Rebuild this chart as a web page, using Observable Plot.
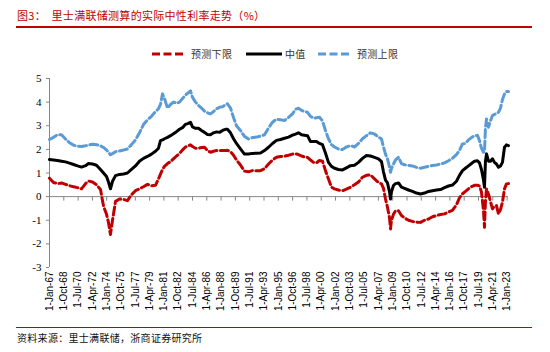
<!DOCTYPE html>
<html><head><meta charset="utf-8">
<script src="https://cdn.jsdelivr.net/npm/d3@7"></script>
<script src="https://cdn.jsdelivr.net/npm/@observablehq/plot@0.6"></script>
<style>
body{margin:0;background:#fff;}
#wrap{position:relative;width:550px;height:352px;overflow:hidden;font-family:"Noto Sans CJK SC",sans-serif;}
#title{position:absolute;left:17px;top:7px;font-size:11px;line-height:16px;color:#C00000;letter-spacing:0.3px;white-space:nowrap;}
.rule{position:absolute;left:16px;width:516px;background:#C00000;}
#legend{position:absolute;left:0;top:46px;width:550px;height:16px;}
.sw{position:absolute;top:0;}
.lt{position:absolute;top:0;font-size:10px;line-height:16px;color:#333;letter-spacing:0.3px;white-space:nowrap;}
#chart{position:absolute;left:0;top:68px;}
#source{position:absolute;left:17px;top:331px;font-size:10px;line-height:14px;color:#111;letter-spacing:0.3px;white-space:nowrap;}
</style></head><body>
<div id="wrap">
  <div id="title">图3：&nbsp;&nbsp;里士满联储测算的实际中性利率走势（%）</div>
  <div class="rule" style="top:26px;height:2px"></div>
  <div id="legend"></div>
  <div id="chart"></div>
  <div class="rule" style="top:326.5px;height:1.5px"></div>
  <div id="source">资料来源：里士满联储，浙商证券研究所</div>
</div>
<script>
const seriesNames = ["预测下限", "中值", "预测上限"];
const seriesColors = ["#C00000", "#000000", "#5B9BD5"];
const yTicks = [-3, -2, -1, 0, 1, 2, 3, 4, 5];
const tickLabels = ["1-Jan-67","1-Oct-68","1-Jul-70","1-Apr-72","1-Jan-74","1-Oct-75","1-Jul-77","1-Apr-79","1-Jan-81","1-Oct-82","1-Jul-84","1-Apr-86","1-Jan-88","1-Oct-89","1-Jul-91","1-Apr-93","1-Jan-95","1-Oct-96","1-Jul-98","1-Apr-00","1-Jan-02","1-Oct-03","1-Jul-05","1-Apr-07","1-Jan-09","1-Oct-10","1-Jul-12","1-Apr-14","1-Jan-16","1-Oct-17","1-Jul-19","1-Apr-21","1-Jan-23"];

const years = [
1967.00,1967.49,1967.98,1968.47,1968.96,1969.45,1969.94,1970.43,1970.92,1971.41,
1971.77,1972.26,1972.75,1973.24,1973.61,1973.98,1974.22,1974.46,1974.71,1975.08,
1975.57,1976.06,1976.54,1977.03,1977.52,1978.01,1978.50,1978.99,1979.48,1979.97,
1980.34,1980.58,1980.83,1981.07,1981.44,1981.81,1982.17,1982.54,1982.91,1983.28,
1983.64,1984.01,1984.25,1984.50,1984.87,1985.23,1985.60,1985.97,1986.33,1986.70,
1987.07,1987.44,1987.80,1988.17,1988.54,1988.78,1989.15,1989.52,1989.88,1990.37,
1990.86,1991.35,1991.84,1992.33,1992.82,1993.31,1993.80,1994.29,1994.78,1995.27,
1995.76,1996.25,1996.74,1997.10,1997.47,1997.84,1998.20,1998.57,1998.94,1999.31,
1999.67,2000.04,2000.41,2000.77,2001.14,2001.51,2001.88,2002.36,2002.85,2003.34,
2003.83,2004.32,2004.81,2005.30,2005.79,2006.28,2006.77,2007.26,2007.63,2007.87,
2008.12,2008.36,2008.61,2008.73,2008.85,2009.09,2009.34,2009.71,2010.07,2010.44,
2010.93,2011.42,2011.91,2012.40,2012.89,2013.38,2013.87,2014.36,2014.85,2015.34,
2015.83,2016.31,2016.80,2017.17,2017.54,2017.90,2018.27,2018.64,2019.01,2019.37,
2019.62,2019.86,2020.11,2020.23,2020.35,2020.48,2020.72,2020.96,2021.21,2021.45,
2021.70,2021.94,2022.19,2022.43,2022.68,2022.92,2023.17];

const lower = [
0.78,0.60,0.55,0.58,0.52,0.46,0.42,0.38,0.33,0.55,
0.66,0.62,0.50,0.30,-0.40,-0.75,-1.10,-1.60,-1.00,-0.20,
-0.10,-0.12,-0.17,0.08,0.25,0.33,0.42,0.52,0.46,0.48,
0.75,0.95,1.15,1.28,1.40,1.48,1.60,1.72,1.82,1.98,
2.10,2.15,2.19,2.12,2.05,2.05,2.08,2.09,1.95,1.88,
1.92,1.95,1.95,1.95,1.95,1.96,1.90,1.75,1.55,1.34,
1.08,1.05,1.10,1.10,1.10,1.18,1.38,1.55,1.67,1.70,
1.71,1.75,1.80,1.81,1.78,1.72,1.68,1.66,1.55,1.45,
1.43,1.53,1.50,1.10,0.75,0.40,0.33,0.28,0.25,0.32,
0.40,0.50,0.62,0.82,0.90,0.92,0.75,0.60,0.54,0.35,
-0.10,-0.45,-0.90,-1.37,-1.00,-0.75,-0.60,-0.60,-0.80,-0.90,
-1.00,-1.05,-1.08,-1.09,-1.00,-0.95,-0.85,-0.80,-0.76,-0.73,
-0.65,-0.58,-0.35,-0.05,0.12,0.22,0.33,0.42,0.48,0.48,
0.45,0.20,-0.60,-1.30,-0.20,0.33,0.10,-0.20,-0.52,-0.40,
-0.38,-0.73,-0.55,-0.24,0.33,0.54,0.55];

const median = [
1.57,1.55,1.53,1.50,1.47,1.42,1.36,1.30,1.25,1.31,
1.40,1.38,1.33,1.15,1.00,0.85,0.62,0.33,0.65,0.89,
0.94,0.96,1.00,1.15,1.30,1.50,1.62,1.70,1.80,1.92,
2.05,2.37,2.40,2.45,2.51,2.58,2.66,2.75,2.85,2.92,
3.06,3.10,3.15,2.95,2.89,2.89,2.80,2.72,2.63,2.62,
2.70,2.74,2.72,2.80,2.85,2.85,2.70,2.45,2.25,2.02,
1.80,1.80,1.83,1.84,1.85,1.95,2.09,2.25,2.38,2.42,
2.47,2.52,2.60,2.65,2.70,2.62,2.60,2.58,2.33,2.33,
2.33,2.25,2.20,1.85,1.45,1.28,1.20,1.15,1.13,1.22,
1.31,1.33,1.45,1.62,1.74,1.72,1.66,1.60,1.48,1.05,
0.70,0.58,0.20,-0.10,0.20,0.47,0.55,0.58,0.40,0.35,
0.28,0.22,0.15,0.11,0.15,0.22,0.25,0.28,0.30,0.38,
0.45,0.49,0.65,0.90,1.10,1.20,1.30,1.40,1.50,1.52,
1.43,1.15,0.70,0.40,1.50,1.81,1.50,1.50,1.60,1.45,
1.38,1.24,1.30,1.45,2.09,2.19,2.16];

const upper = [
2.42,2.51,2.62,2.62,2.44,2.28,2.18,2.13,2.12,2.15,
2.18,2.22,2.20,2.15,2.08,1.97,1.88,1.77,1.82,1.90,
1.93,1.97,2.02,2.20,2.40,2.70,3.05,3.25,3.40,3.60,
3.72,3.90,4.35,4.15,3.75,3.90,4.00,3.95,4.00,4.15,
4.30,4.40,4.48,4.20,4.00,3.86,3.75,3.62,3.55,3.50,
3.60,3.72,3.78,3.80,3.90,3.93,3.75,3.35,3.00,2.80,
2.55,2.44,2.50,2.52,2.56,2.62,2.90,3.15,3.28,3.25,
3.22,3.35,3.50,3.70,3.74,3.65,3.60,3.57,3.40,3.32,
3.34,3.36,3.20,2.80,2.45,2.20,2.10,2.02,1.99,2.10,
2.16,2.10,2.25,2.45,2.58,2.70,2.65,2.52,2.44,2.10,
1.80,1.60,1.25,1.03,1.20,1.38,1.55,1.67,1.40,1.35,
1.32,1.30,1.24,1.20,1.24,1.28,1.32,1.34,1.38,1.43,
1.52,1.62,1.78,1.95,2.23,2.25,2.40,2.50,2.58,2.60,
2.37,2.05,1.88,1.90,2.90,3.29,2.94,3.20,3.43,3.48,
3.52,3.57,3.75,4.10,4.35,4.45,4.45];

const monthNames = ["Jan","Feb","Mar","Apr","May","Jun","Jul","Aug","Sep","Oct","Nov","Dec"];
function parseLabel(s) {
  const [, mon, yy] = s.split("-");
  const y2 = +yy;
  const year = y2 >= 50 ? 1900 + y2 : 2000 + y2;
  return year + monthNames.indexOf(mon) / 12;
}
const tickVals = tickLabels.map(parseLabel);
const labelOf = new Map(tickVals.map((v, i) => [v, tickLabels[i]]));

const rows = years.map((t, i) => ({t, lower: lower[i], median: median[i], upper: upper[i]}));
const tickDown = {draw(ctx) { ctx.moveTo(0, 0); ctx.lineTo(0, 4); }};
const axisGray = "#868686";
const dash = "8,3.5";

const chart = Plot.plot({
  width: 550, height: 256,
  marginLeft: 49, marginRight: 42, marginTop: 10, marginBottom: 57,
  x: {type: "linear", domain: [years[0], years[years.length - 1]], axis: null, label: null},
  y: {domain: [-3, 5], axis: null, label: null},
  style: {fontFamily: "Liberation Sans, sans-serif", fontSize: "10px", color: "#000", background: "transparent", overflow: "visible"},
  marks: [
    Plot.ruleY([0], {stroke: axisGray, strokeWidth: 1}),
    Plot.ruleX([years[0]], {stroke: axisGray, strokeWidth: 1}),
    Plot.dot(tickVals, {x: d => d, y: 0, symbol: tickDown, r: 2, stroke: axisGray, fill: "none", strokeWidth: 1}),
    Plot.axisY({ticks: yTicks, label: null, tickSize: 3, tickPadding: 5, stroke: axisGray, fill: "#000", fontFamily: "Liberation Serif, serif", fontSize: 11, tickFormat: d => String(d)}),
    Plot.axisX({ticks: tickVals, label: null, tickFormat: d => labelOf.get(d), tickRotate: -90, tickSize: 0, tickPadding: 4, fill: "#000", fontFamily: "Liberation Sans, sans-serif", fontSize: 10}),
    Plot.lineY(rows, {x: "t", y: "lower", stroke: seriesColors[0], strokeWidth: 3, strokeDasharray: dash, strokeLinejoin: "round"}),
    Plot.lineY(rows, {x: "t", y: "median", stroke: seriesColors[1], strokeWidth: 3, strokeLinejoin: "round"}),
    Plot.lineY(rows, {x: "t", y: "upper", stroke: seriesColors[2], strokeWidth: 3, strokeDasharray: dash, strokeLinejoin: "round"})
  ]
});
document.getElementById("chart").appendChild(chart);

// legend
const legendSpec = [
  {sw: 152, w: 32, tx: 191, dashed: true},
  {sw: 246, w: 36, tx: 285, dashed: false},
  {sw: 318, w: 32, tx: 357, dashed: true}
];
const leg = document.getElementById("legend");
legendSpec.forEach((s, i) => {
  const ns = "http://www.w3.org/2000/svg";
  const svg = document.createElementNS(ns, "svg");
  svg.setAttribute("class", "sw");
  svg.setAttribute("width", s.w);
  svg.setAttribute("height", 16);
  svg.style.left = s.sw + "px";
  const ln = document.createElementNS(ns, "line");
  ln.setAttribute("x1", 0); ln.setAttribute("x2", s.w);
  ln.setAttribute("y1", 8); ln.setAttribute("y2", 8);
  ln.setAttribute("stroke", seriesColors[i]);
  ln.setAttribute("stroke-width", 3);
  if (s.dashed) ln.setAttribute("stroke-dasharray", dash);
  svg.appendChild(ln);
  leg.appendChild(svg);
  const t = document.createElement("span");
  t.className = "lt";
  t.style.left = s.tx + "px";
  t.textContent = seriesNames[i];
  leg.appendChild(t);
});
</script>
</body></html>
